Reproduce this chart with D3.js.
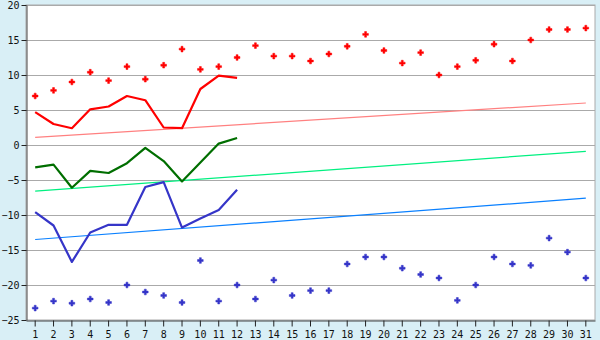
<!DOCTYPE html>
<html>
<head>
<meta charset="utf-8">
<script src="https://cdn.jsdelivr.net/npm/d3@7"></script>
<style>
  body { margin: 0; background: #d9eff6; }
  svg { display: block; }
</style>
</head>
<body>
<div id="chart"></div>
<script>
const days = d3.range(1, 32);
const yTicks = [-25, -20, -15, -10, -5, 0, 5, 10, 15, 20];

// record highs (points) and this year's max (line)
const maxRecord = [7.0, 7.8, 9.0, 10.4, 9.2, 11.2, 9.4, 11.4, 13.7, 10.8, 11.2, 12.5, 14.2, 12.7, 12.7, 12.0,
  13.0, 14.1, 15.8, 13.5, 11.7, 13.2, 10.0, 11.2, 12.1, 14.4, 12.0, 15.0, 16.5, 16.5, 16.7];
const maxActual = [4.7, 3.0, 2.4, 5.1, 5.5, 7.0, 6.4, 2.5, 2.4, 8.0, 9.9, 9.6];
const maxTrend = [1.1, 6.0];

const meanActual = [-3.2, -2.8, -6.1, -3.7, -4.0, -2.6, -0.4, -2.3, -5.2, -2.5, 0.2, 1.0];
const meanTrend = [-6.6, -0.9];

// record lows (points) and this year's min (line)
const minRecord = [-23.3, -22.3, -22.6, -22.0, -22.5, -20.0, -21.0, -21.5, -22.5, -16.5, -22.3, -20.0, -22.0,
  -19.3, -21.5, -20.8, -20.8, -17.0, -16.0, -16.0, -17.6, -18.5, -19.0, -22.2, -20.0, -16.0, -17.0, -17.2,
  -13.3, -15.3, -19.0];
const minActual = [-9.6, -11.5, -16.7, -12.5, -11.4, -11.4, -6.0, -5.3, -11.8, -10.5, -9.3, -6.4];
const minTrend = [-13.5, -7.6];

const W = 600, H = 340;
const margin = { top: 5, right: 5, bottom: 20, left: 26 };

const svg = d3.select('#chart').append('svg')
  .attr('width', W)
  .attr('height', H);

const x = d3.scaleBand()
  .domain(days)
  .range([margin.left, W - margin.right]);
const cx = d => x(d) + x.bandwidth() / 2;

const y = d3.scaleLinear()
  .domain([-25, 20])
  .range([H - margin.bottom, margin.top]);

// plot background + frame
svg.append('rect')
  .attr('x', margin.left)
  .attr('y', margin.top)
  .attr('width', W - margin.left - margin.right)
  .attr('height', H - margin.top - margin.bottom)
  .attr('fill', '#fff')
  .attr('stroke', '#aaa');

// gridlines
svg.append('g')
  .selectAll('line')
  .data(yTicks.slice(1))
  .join('line')
  .attr('x1', margin.left)
  .attr('x2', W - margin.right)
  .attr('y1', d => Math.round(y(d)) + 0.5)
  .attr('y2', d => Math.round(y(d)) + 0.5)
  .attr('stroke', '#aaa');

// axes
const yAxis = svg.append('g')
  .attr('transform', `translate(${margin.left + 0.5},0)`)
  .call(d3.axisLeft(y).tickValues(yTicks).tickSize(5).tickSizeOuter(0).tickPadding(2));

const xAxis = svg.append('g')
  .attr('transform', `translate(0,${H - margin.bottom + 0.5})`)
  .call(d3.axisBottom(x).tickSize(6).tickSizeOuter(0).tickPadding(4));

[yAxis, xAxis].forEach(g => {
  g.selectAll('text')
    .attr('fill', '#111')
    .style('font-family', 'DejaVu Sans Mono, monospace')
    .style('font-size', '10px');
  g.selectAll('line').attr('stroke', '#222');
  g.select('.domain').attr('stroke', '#444');
});

// trend lines
const trends = [
  { vals: maxTrend, color: '#ff8080' },
  { vals: meanTrend, color: '#00f080' },
  { vals: minTrend, color: '#0a80ff' }
];
trends.forEach(t => {
  svg.append('line')
    .attr('x1', cx(days[0]))
    .attr('x2', cx(days[days.length - 1]))
    .attr('y1', y(t.vals[0]))
    .attr('y2', y(t.vals[1]))
    .attr('stroke', t.color)
    .attr('stroke-width', 1.2);
});

// actual lines
const line = d3.line()
  .x((d, i) => cx(days[i]))
  .y(d => y(d));

const series = [
  { vals: maxActual, color: '#ff0000' },
  { vals: meanActual, color: '#006e00' },
  { vals: minActual, color: '#3535c8' }
];
series.forEach(s => {
  svg.append('path')
    .datum(s.vals)
    .attr('fill', 'none')
    .attr('stroke', s.color)
    .attr('stroke-width', 2.2)
    .attr('stroke-linejoin', 'round')
    .attr('d', line);
});

// record points: small cross with a fat centre
const cross = d3.symbol().type(d3.symbolCross).size(18);
const points = [
  { vals: maxRecord, color: '#ff0000' },
  { vals: minRecord, color: '#3535c8' }
];
points.forEach(p => {
  svg.append('g')
    .selectAll('path')
    .data(p.vals)
    .join('path')
    .attr('transform', (d, i) => `translate(${cx(days[i])},${y(d)})`)
    .attr('d', cross)
    .attr('fill', p.color)
    .attr('stroke', p.color)
    .attr('stroke-width', 0.5)
    .attr('stroke-linejoin', 'round');
});
</script>
</body>
</html>
